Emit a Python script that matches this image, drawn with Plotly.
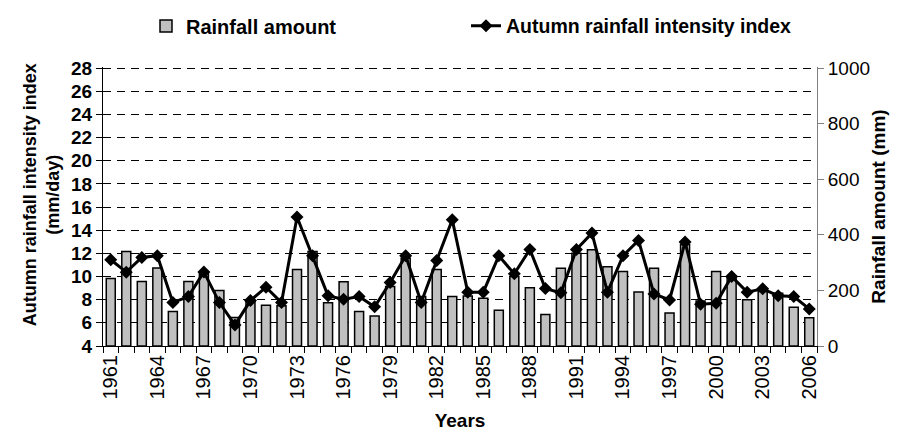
import plotly.graph_objects as go

years = list(range(1961, 2007))
rainfall_mm = [243, 340, 232, 281, 124, 232, 260, 200, 103, 160,
               147, 145, 275, 340, 156, 231, 124, 108, 214, 316,
               178, 275, 178, 180, 172, 129, 250, 210, 113, 280,
               334, 346, 285, 268, 194, 280, 119, 365, 162, 268,
               244, 166, 196, 190, 139, 102]
intensity = [11.45, 10.38, 11.65, 11.80, 7.75, 8.27, 10.40, 7.75, 5.82, 7.92,
             9.08, 7.75, 15.14, 11.79, 8.33, 8.04, 8.27, 7.38, 9.48, 11.79,
             7.75, 11.39, 14.91, 8.65, 8.65, 11.79, 10.23, 12.34, 8.96, 8.59,
             12.34, 13.75, 8.65, 11.79, 13.12, 8.50, 7.98, 12.98, 7.61, 7.69,
             10.00, 8.65, 8.94, 8.33, 8.27, 7.20]
year_ticks = list(range(1961, 2007, 3))
rain_ticks = [0, 200, 400, 600, 800, 1000]
intensity_min, intensity_max, intensity_step = 4, 28, 2
rain_min, rain_max = 0, 1000

FONT = "Arial, Liberation Sans, sans-serif"

# a tiny headroom so the top dashed gridline (28 / 1000) is drawn inside the plot
pad = 0.004
rain_range = [rain_min, rain_max + pad * (rain_max - rain_min)]
intensity_range = [intensity_min, intensity_max + pad * (intensity_max - intensity_min)]

# gridlines follow the left (intensity) scale, drawn on the bar axis so they sit behind the bars
n_grid = int((intensity_max - intensity_min) / intensity_step)
grid_vals_mm = [rain_min + k * (rain_max - rain_min) / n_grid for k in range(n_grid + 1)]

fig = go.Figure()
fig.add_bar(
    x=years, y=rainfall_mm, yaxis="y", name="<b>Rainfall amount</b>",
    marker=dict(color="#C0C0C0", line=dict(color="black", width=1.5)),
    width=0.58, legend="legend", showlegend=True,
)
fig.add_scatter(
    x=years, y=intensity, yaxis="y2", mode="lines+markers",
    name="<b>Autumn rainfall intensity index</b>",
    line=dict(color="black", width=3),
    marker=dict(symbol="diamond", size=10, color="black"),
    legend="legend2", showlegend=True,
)
# empty trace so the right-hand rainfall axis is rendered
fig.add_scatter(x=[], y=[], yaxis="y3", showlegend=False, hoverinfo="skip")

fig.update_layout(
    width=898, height=434,
    margin=dict(l=95, r=89, t=59, b=96),
    paper_bgcolor="white", plot_bgcolor="white",
    font=dict(family=FONT, color="black"),
    showlegend=True,
    xaxis=dict(
        range=[1960.5, 2006.5],
        tickmode="array", tickvals=year_ticks, ticktext=[str(y) for y in year_ticks],
        tickangle=-90, tickfont=dict(size=20, family=FONT),
        ticks="", showgrid=False, zeroline=False,
        showline=True, linecolor="black", linewidth=1,
        minor=dict(tickmode="linear", tick0=1960.5, dtick=1, ticks="outside",
                   ticklen=6, tickcolor="black", tickwidth=1, showgrid=False),
        title=dict(text="<b>Years</b>", font=dict(size=19, family=FONT), standoff=15),
    ),
    yaxis=dict(
        side="right", range=rain_range,
        tickmode="array", tickvals=grid_vals_mm, ticks="", showticklabels=False,
        showgrid=True, gridcolor="black", gridwidth=1, griddash="8px,6px",
        zeroline=False, showline=False,
    ),
    yaxis2=dict(
        overlaying="y", side="left", range=intensity_range,
        tick0=intensity_min, dtick=intensity_step,
        ticks="outside", ticklen=6, tickcolor="black",
        showgrid=False, zeroline=False, showline=True, linecolor="black", linewidth=1,
        tickfont=dict(size=19, family=FONT),
        tickprefix="<b>", ticksuffix="</b>",
    ),
    yaxis3=dict(
        overlaying="y", side="right", anchor="x", range=rain_range,
        tickmode="array", tickvals=rain_ticks,
        ticks="outside", ticklen=6, tickcolor="#808080",
        showgrid=False, zeroline=False,
        showline=True, linecolor="#808080", linewidth=1,
        tickfont=dict(size=19, family=FONT),
        tickprefix="<b>", ticksuffix="</b>",
        title=dict(text="<b>Rainfall amount (mm)</b>", font=dict(size=19, family=FONT), standoff=2),
    ),
    annotations=[dict(
        text="<b>Autumn rainfall intensity index<br>(mm/day)</b>",
        textangle=-90, font=dict(size=18, family=FONT),
        xref="paper", x=0, xanchor="center", xshift=-62,
        yref="paper", y=0.54, yanchor="middle",
        showarrow=False,
    )],
    legend=dict(
        orientation="h", x=138 / 898, xref="container", xanchor="left",
        y=1 - 18 / 434, yref="container", yanchor="middle",
        font=dict(size=20, family=FONT), bgcolor="rgba(0,0,0,0)",
    ),
    legend2=dict(
        orientation="h", x=458 / 898, xref="container", xanchor="left",
        y=1 - 18 / 434, yref="container", yanchor="middle",
        font=dict(size=19.5, family=FONT), bgcolor="rgba(0,0,0,0)",
    ),
)

fig.write_html("out.html")
